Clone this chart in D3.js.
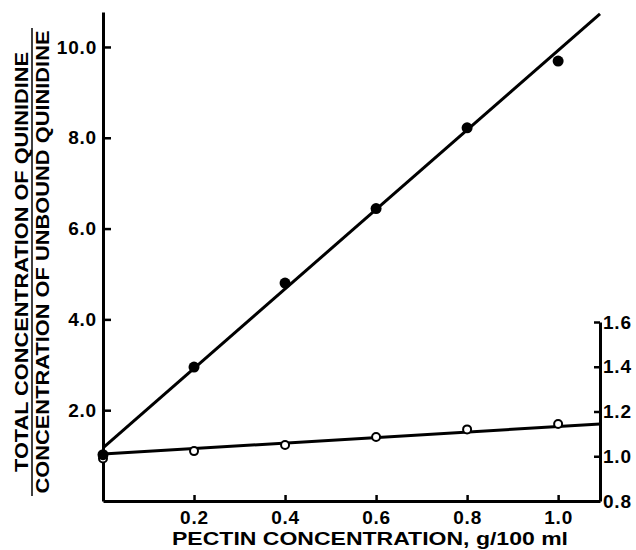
<html>
<head>
<script src="https://d3js.org/d3.v7.min.js"></script>
<style>
  body { margin: 0; background: #fff; }
  text { font-family: "Liberation Sans", Arial, sans-serif; font-weight: bold; fill: #000; }
</style>
</head>
<body>
<script>
// data
var pectin = [0, 0.2, 0.4, 0.6, 0.8, 1.0]
var totalRatio = [1.02, 2.95, 4.8, 6.44, 8.22, 9.69]     // filled dots, left axis
var rightRatio = [0.99, 1.023, 1.05, 1.086, 1.12, 1.144] // open circles, right axis
var fitX = [0, 1.092]
var fitTotal = [1.17, 10.73]
var fitRight = [1.01, 1.144]
var xTicks = [0.2, 0.4, 0.6, 0.8, 1.0]
var leftTicks = [2, 4, 6, 8, 10]
var rightTicks = [0.8, 1.0, 1.2, 1.4, 1.6]

var svg = d3.select("body").append("svg")
	.attr("width", 636)
	.attr("height", 550)

var x = d3.scaleLinear().domain([0, 1.092]).range([103, 600])
var yL = d3.scaleLinear().domain([0, 10.77]).range([501, 12])
var yR = d3.scaleLinear().domain([0.8, 1.6]).range([501, 322])

function styleAxis(g) {
	g.select(".domain").attr("stroke", "#000").attr("stroke-width", 3)
	g.selectAll(".tick line").attr("stroke", "#000").attr("stroke-width", 2.5)
	g.selectAll(".tick text").attr("font-size", 19).attr("font-family", null)
		.attr("letter-spacing", 0.8)
}

var gx = svg.append("g").attr("transform", "translate(0,501)")
	.call(d3.axisBottom(x).tickValues(xTicks).tickFormat(d3.format(".1f"))
		.tickSize(-6).tickSizeOuter(0).tickPadding(10))
styleAxis(gx)

var gl = svg.append("g").attr("transform", "translate(103,0)")
	.call(d3.axisLeft(yL).tickValues(leftTicks).tickFormat(d3.format(".1f"))
		.tickSize(-8).tickSizeOuter(0).tickPadding(6))
styleAxis(gl)

var gr = svg.append("g").attr("transform", "translate(600,0)")
	.call(d3.axisRight(yR).tickValues(rightTicks).tickFormat(d3.format(".1f"))
		.tickSize(-6).tickSizeOuter(0).tickPadding(3))
styleAxis(gr)

// fitted lines
var line = d3.line()
svg.append("path")
	.attr("d", line(fitX.map(function(d, i) { return [x(d), yL(fitTotal[i])] })))
	.attr("stroke", "#000").attr("stroke-width", 3).attr("fill", "none")
svg.append("path")
	.attr("d", line(fitX.map(function(d, i) { return [x(d), yR(fitRight[i])] })))
	.attr("stroke", "#000").attr("stroke-width", 3).attr("fill", "none")

// points
svg.append("g").selectAll("circle")
	.data(pectin).enter().append("circle")
	.attr("cx", function(d) { return x(d) })
	.attr("cy", function(d, i) { return yR(rightRatio[i]) })
	.attr("r", 4)
	.attr("fill", "#fff")
	.attr("stroke", "#000").attr("stroke-width", 2)

svg.append("g").selectAll("circle")
	.data(pectin).enter().append("circle")
	.attr("cx", function(d) { return x(d) })
	.attr("cy", function(d, i) { return yL(totalRatio[i]) })
	.attr("r", 5.5)
	.attr("fill", "#000")

// axis titles
svg.append("text")
	.attr("x", 370).attr("y", 545)
	.attr("text-anchor", "middle")
	.attr("font-size", 18)
	.attr("textLength", 396).attr("lengthAdjust", "spacingAndGlyphs")
	.text("PECTIN CONCENTRATION, g/100 ml")

var yt = svg.append("g").attr("transform", "translate(0,262) rotate(-90)")
yt.append("text")
	.attr("x", 0).attr("y", 28)
	.attr("text-anchor", "middle")
	.attr("font-size", 18)
	.attr("textLength", 420).attr("lengthAdjust", "spacingAndGlyphs")
	.text("TOTAL CONCENTRATION OF QUINIDINE")
yt.append("line")
	.attr("x1", -234).attr("x2", 234)
	.attr("y1", 32).attr("y2", 32)
	.attr("stroke", "#000").attr("stroke-width", 1.5)
yt.append("text")
	.attr("x", 0).attr("y", 49)
	.attr("text-anchor", "middle")
	.attr("font-size", 18)
	.attr("textLength", 463).attr("lengthAdjust", "spacingAndGlyphs")
	.text("CONCENTRATION OF UNBOUND QUINIDINE")
</script>
</body>
</html>
